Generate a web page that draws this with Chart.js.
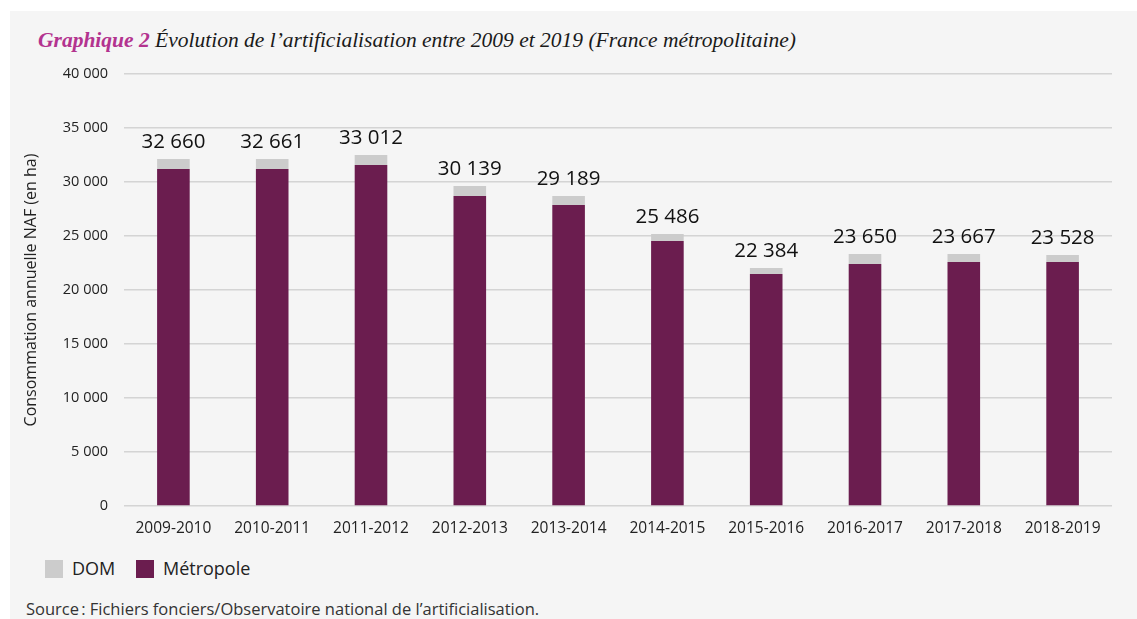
<!DOCTYPE html>
<html lang="fr">
<head>
<meta charset="utf-8">
<script src="https://cdn.jsdelivr.net/npm/chart.js@4"></script>
<style>
    html, body { margin: 0; padding: 0; background: #ffffff; }
    #panel {
        position: absolute; left: 10px; top: 11px; width: 1127px; height: 608px;
        background: #f5f5f5; overflow: hidden;
    }
    #title {
        position: absolute; left: 28px; top: 17px; margin: 0;
        font-family: "Liberation Serif", "DejaVu Serif", serif; font-style: italic;
        font-size: 21.5px; font-weight: normal; color: #1a1a1a; white-space: nowrap;
    }
    #title b { color: #b3338f; }
    #chartBox { position: absolute; left: 0; top: 0; width: 1137px; height: 545px; }
    #legend {
        position: absolute; left: 35px; top: 545px;
        font-family: "Open Sans", sans-serif; font-size: 18px; color: #222;
    }
    #legend span.item { display: inline-block; margin-right: 16px; }
    #legend i { display: inline-block; width: 18px; height: 18px; vertical-align: -3px; margin-right: 9px; }
    #source {
        position: absolute; left: 16px; top: 586px;
        font-family: "Open Sans", sans-serif; font-size: 16.5px; color: #333;
    }
</style>
</head>
<body>
<div id="panel">
    <h1 id="title"><b>Graphique 2</b> Évolution de l’artificialisation entre 2009 et 2019 (France métropolitaine)</h1>
    <div id="legend">
        <span class="item"><i style="background:#cccccc"></i>DOM</span>
        <span class="item"><i style="background:#6b1d4f"></i>Métropole</span>
    </div>
    <div id="source">Source&#8239;: Fichiers fonciers/Observatoire national de l’artificialisation.</div>
</div>
<div id="chartBox"><canvas id="chart"></canvas></div>
<script>
const periods = ['2009-2010', '2010-2011', '2011-2012', '2012-2013', '2013-2014',
                 '2014-2015', '2015-2016', '2016-2017', '2017-2018', '2018-2019'];
const metropole = [31200, 31200, 31570, 28700, 27870, 24540, 21480, 22410, 22590, 22590];
const dom = [930, 930, 930, 930, 830, 650, 560, 920, 740, 650];
const totals = [32660, 32661, 33012, 30139, 29189, 25486, 22384, 23650, 23667, 23528];
const yTicks = [0, 5000, 10000, 15000, 20000, 25000, 30000, 35000, 40000];

function fmt(n) {
    return String(n).replace(/\B(?=(\d{3})+(?!\d))/g, ' ');
}

// writes the total above each stacked bar
const totalLabels = {
    id: 'totalLabels',
    afterDatasetsDraw(chart) {
        const ctx = chart.ctx;
        const meta = chart.getDatasetMeta(1);
        ctx.save();
        ctx.font = '500 20.5px "Open Sans", sans-serif';
        ctx.fillStyle = '#111';
        ctx.textAlign = 'center';
        ctx.textBaseline = 'bottom';
        meta.data.forEach(function (bar, i) {
            ctx.fillText(fmt(totals[i]), bar.x, bar.y - 7);
        });
        ctx.restore();
    }
};

new Chart(document.getElementById('chart'), {
    type: 'bar',
    data: {
        labels: periods,
        datasets: [{
            label: 'Métropole',
            data: metropole,
            backgroundColor: '#6b1d4f',
            barPercentage: 0.33,
            categoryPercentage: 1
        }, {
            label: 'DOM',
            data: dom,
            backgroundColor: '#cccccc',
            barPercentage: 0.33,
            categoryPercentage: 1
        }]
    },
    options: {
        responsive: true,
        maintainAspectRatio: false,
        animation: false,
        layout: { padding: { top: 74, right: 25, left: 22, bottom: 0 } },
        plugins: {
            legend: { display: false },
            tooltip: { enabled: false }
        },
        scales: {
            x: {
                stacked: true,
                grid: { display: false },
                border: { display: false },
                ticks: { color: '#222', font: { family: 'Open Sans', size: 15.5 }, padding: 5 },
                afterFit: function (scale) { scale.height = 39; }
            },
            y: {
                stacked: true,
                min: 0,
                max: 40000,
                afterBuildTicks: function (scale) {
                    scale.ticks = yTicks.map(v => ({ value: v }));
                },
                grid: { color: '#d4d4d4', lineWidth: 1.5, drawTicks: false },
                border: { display: false },
                ticks: {
                    color: '#222',
                    font: { family: 'Open Sans', size: 14.5 },
                    padding: 16,
                    callback: function (v) { return fmt(v); }
                },
                title: {
                    display: true,
                    text: 'Consommation annuelle NAF (en ha)',
                    color: '#222',
                    font: { family: 'Open Sans', size: 16 },
                    padding: { top: 0, bottom: 0 }
                },
                afterFit: function (scale) { scale.width = 102; }
            }
        }
    },
    plugins: [totalLabels]
});
</script>
</body>
</html>
